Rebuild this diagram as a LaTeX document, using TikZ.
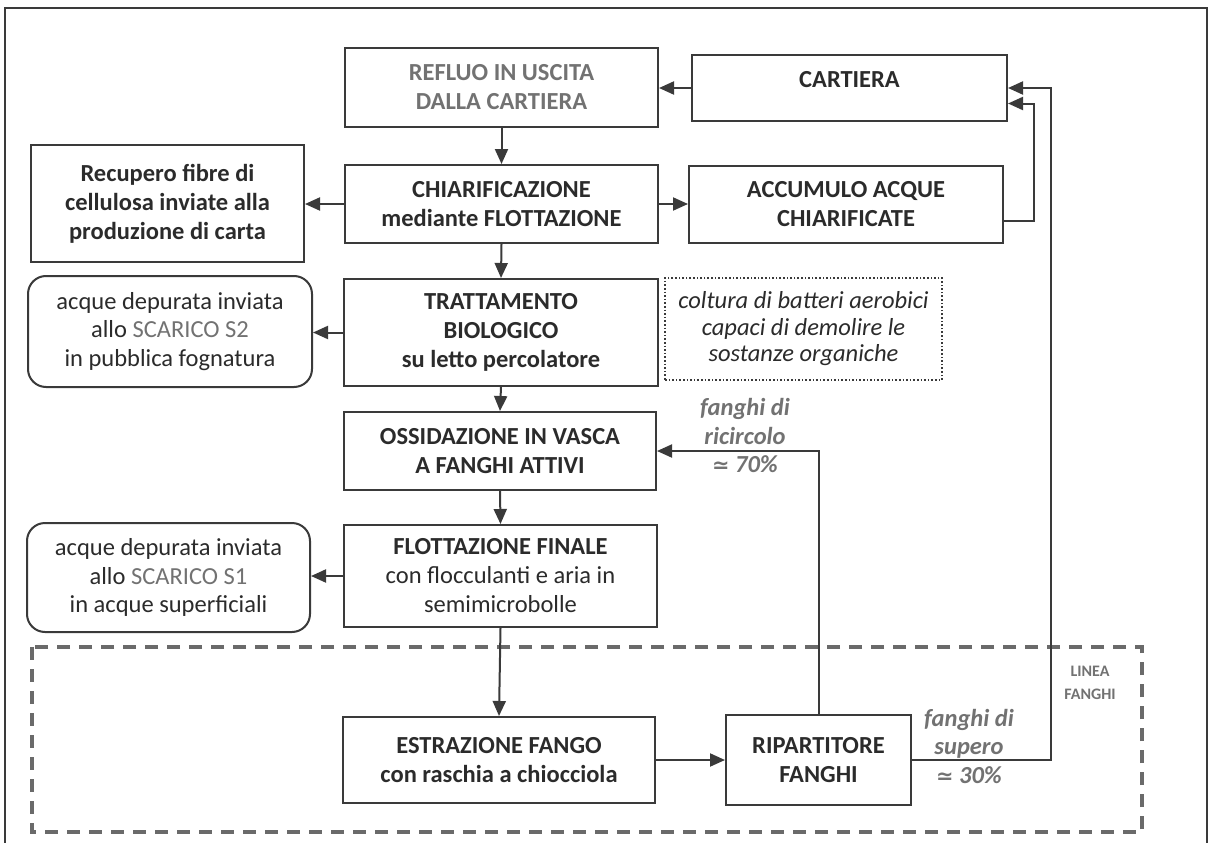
\documentclass[tikz,border=0pt]{standalone}
\usepackage{fontspec}
\setmainfont{Carlito}
\newfontfamily\symf{DejaVu Sans}[Scale=0.85]
\usetikzlibrary{arrows.meta}
\definecolor{ink}{HTML}{2B2B2B}
\definecolor{edge}{HTML}{3A3A3A}
\definecolor{soft}{HTML}{727272}
\definecolor{dashc}{HTML}{6A6A6A}
\begin{document}
\begin{tikzpicture}[x=1pt,y=-1pt,
  box/.style={draw=edge,line width=2pt,align=center,inner sep=0pt,text=ink,
    font=\fontsize{24.5}{29}\selectfont\bfseries},
  roundbox/.style={box,rounded corners=18pt,font=\fontsize{24.5}{28.5}\selectfont},
  note/.style={draw=edge,dotted,line width=1.6pt,align=center,inner sep=0pt,text=ink,
    font=\fontsize{24.5}{26.5}\selectfont\itshape},
  flowlabel/.style={align=center,inner sep=0pt,text=soft,
    font=\fontsize{24.5}{28.5}\selectfont\bfseries\itshape},
  flow/.style={draw=edge,line width=2pt,-{Triangle[length=15pt,width=13pt]}}]
\useasboundingbox (0,0) rectangle (1208,843);
\fill[white] (0,0) rectangle (1208,843);
% outer frame
\draw[edge,line width=2pt] (5,843) -- (5,8.5) -- (1207,8.5) -- (1207,843);
% sludge line region
\draw[dashc,line width=3.5pt,dash pattern=on 13pt off 9pt] (32,647) rectangle (1142,832);
\node[align=center,inner sep=0pt,text=soft,font=\fontsize{16}{23}\selectfont\bfseries] (linea) at (1090,683) {LINEA\\FANGHI};

% boxes
\node[box,minimum width=313pt,minimum height=79pt,text=soft] (refluo) at (501.5,87.5) {REFLUO IN USCITA\\DALLA CARTIERA};
\node[box,minimum width=315pt,minimum height=66pt,text height=17pt,text depth=17pt] (cartiera) at (849.5,88) {CARTIERA};
\node[box,minimum width=313pt,minimum height=78pt] (chiar) at (501.5,204) {CHIARIFICAZIONE\\mediante FLOTTAZIONE};
\node[box,minimum width=314pt,minimum height=77pt] (accum) at (846,204.5) {ACCUMULO ACQUE\\CHIARIFICATE};
\node[box,minimum width=273pt,minimum height=117pt] (recup) at (167.5,203.5) {Recupero fibre di\\cellulosa inviate alla\\produzione di carta};
\node[roundbox,minimum width=284pt,minimum height=111pt] (s2) at (170,331.5) {acque depurata inviata\\allo {\color{soft}SCARICO S2}\\in pubblica fognatura};
\node[box,minimum width=314pt,minimum height=107pt] (tratt) at (501,332.5) {TRATTAMENTO\\BIOLOGICO\\su letto percolatore};
\node[note,minimum width=277pt,minimum height=102pt] (batteri) at (803.5,329) {coltura di batteri aerobici\\capaci di demolire le\\sostanze organiche};
\node[box,minimum width=312pt,minimum height=78pt] (ossid) at (500,451) {OSSIDAZIONE IN VASCA\\A FANGHI ATTIVI};
\node[box,minimum width=313pt,minimum height=102pt] (flott) at (500.5,576) {FLOTTAZIONE FINALE\\\mdseries con flocculanti e aria in\\\mdseries semimicrobolle};
\node[roundbox,minimum width=283pt,minimum height=109pt] (s1) at (168.5,577.5) {acque depurata inviata\\allo {\color{soft}SCARICO S1}\\in acque superficiali};
\node[box,minimum width=312pt,minimum height=86pt] (estraz) at (499,760) {ESTRAZIONE FANGO\\con raschia a chiocciola};
\node[box,minimum width=185pt,minimum height=90pt] (ripart) at (818.5,760) {RIPARTITORE\\FANGHI};

% labels
\node[flowlabel] (ricircolo) at (745,436) {fanghi di\\ricircolo\\{\symf ≃} 70\%};
\node[flowlabel] (supero) at (969,746) {fanghi di\\supero\\{\symf ≃} 30\%};

% routing coordinates
\coordinate (outer) at (1051,0);
\coordinate (inner) at (1034,0);
\coordinate (accout) at ([yshift=-16.5pt]accum.east);
\coordinate (cartin) at ([yshift=-15.5pt]cartiera.east);

% connectors
\draw[flow] (cartiera.west) -- (cartiera.west -| refluo.east);
\draw[flow] (refluo.south) -- (chiar.north);
\draw[flow] (chiar.west) -- (chiar.west -| recup.east);
\draw[flow] (chiar.east) -- (chiar.east -| accum.west);
\draw[flow] (chiar.south) -- (tratt.north);
\draw[flow] (tratt.west) -- (tratt.west -| s2.east);
\draw[flow] (tratt.south) -- (ossid.north);
\draw[flow] (ossid.south) -- (flott.north);
\draw[flow] (flott.west) -- (flott.west -| s1.east);
\draw[flow] (flott.south) -- (estraz.north);
\draw[flow] (estraz.east) -- (estraz.east -| ripart.west);
\draw[flow] (ripart.north) -- (ripart.north |- ossid.east) -- (ossid.east);
\draw[flow] (ripart.east) -- (ripart.east -| outer) -- (outer |- cartiera.east) -- (cartiera.east);
\draw[flow] (accout) -- (accout -| inner) -- (inner |- cartin) -- (cartin);
\end{tikzpicture}
\end{document}
